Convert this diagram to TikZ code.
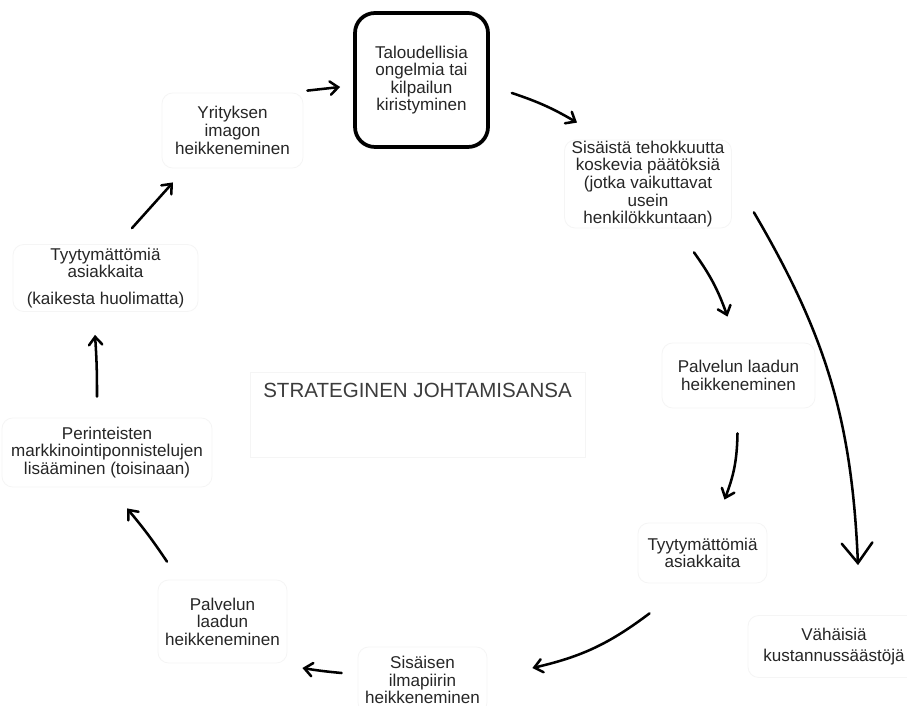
\documentclass[tikz,border=0pt]{standalone}
\usepackage{fontspec}
\setmainfont{Liberation Sans}
\usetikzlibrary{arrows.meta,calc}
\definecolor{ink}{HTML}{262626}
\definecolor{faintline}{HTML}{F5F5F5}
\begin{document}
\begin{tikzpicture}[x=0.75pt,y=0.75pt,
  every node/.style={inner sep=0pt,align=center,text=ink,
    font=\fontsize{12.8}{13.2}\selectfont},
  boxsize/.style 2 args={minimum width=#1*0.75pt,minimum height=#2*0.75pt},
  cell/.style={draw=faintline,line width=0.6pt,rounded corners=8pt},
  keybox/.style={draw=black,line width=2.8pt,rounded corners=15pt},
  arr/.style={draw=black,line width=1.9pt,line cap=round,
    -{Straight Barb[length=6pt,width=10pt,line cap=round]}},
  bigarr/.style={draw=black,line width=1.9pt,line cap=round,
    -{Straight Barb[length=15pt,width=23pt,line cap=round]}}]
\useasboundingbox[fill=white] (0,0) rectangle (907,-706);

% cycle elements
\node[keybox,boxsize={133}{134}] (top) at (421.5,-80)
  {Taloudellisia\\ongelmia tai\\kilpailun\\kiristyminen};
\node[cell,boxsize={167}{88}] (sis) at (648,-184)
  {Sisäistä tehokkuutta\\koskevia päätöksiä\\(jotka vaikuttavat\\usein\\henkilökkuntaan)};
\node[cell,boxsize={153}{65}] (pal1) at (738.5,-375.5)
  {Palvelun laadun\\heikkeneminen};
\node[cell,boxsize={129}{60}] (tyy1) at (702.5,-553)
  {Tyytymättömiä\\asiakkaita};
\node[cell,boxsize={172}{62}] (vah) at (834,-646.5)
  {Vähäisiä\\[3pt]kustannussäästöjä};
\node[cell,boxsize={129}{66}] (sisb) at (422.5,-680)
  {Sisäisen\\ilmapiirin\\heikkeneminen};
\node[cell,boxsize={129}{83}] (pal2) at (222.5,-621.5)
  {Palvelun\\laadun\\heikkeneminen};
\node[cell,boxsize={210}{69}] (per) at (107,-452.5)
  {Perinteisten\\markkinointiponnistelujen\\lisääminen (toisinaan)};
\node[cell,boxsize={185}{67}] (tyy2) at (105.5,-278)
  {Tyytymättömiä\\asiakkaita\\[7pt](kaikesta huolimatta)};
\node[cell,boxsize={141}{75}] (yri) at (232.5,-130.5)
  {Yrityksen\\imagon\\heikkeneminen};

% centre title
\draw[faintline,line width=0.6pt] (250,-372) rectangle (585,-457);
\node[font=\fontsize{15.4}{17}\selectfont,text=ink!90] (title) at (417.5,-390)
  {STRATEGINEN JOHTAMISANSA};

% connectors
\draw[arr] ($(yri.north east)+(4,2)$) -- ($(top.west)+(-13,-7)$);
\draw[arr] ($(top.east)+(22,-13)$) to[bend left=6] ($(sis.north)+(-71,17)$);
\draw[arr] ($(sis.south)+(46,-24)$) to[bend left=8] ($(pal1.north)+(-11,26)$);
\draw[bigarr] ($(sis.south east)+(22,16)$) to[bend left=14] ($(vah.north)+(24,50)$);
\draw[arr] ($(pal1.south)+(-1,-25)$) to[bend left=10] ($(tyy1.north)+(22,23)$);
\draw[arr] ($(tyy1.south)+(-53,-30)$) to[bend left=12] ($(sisb.east)+(45,12)$);
\draw[arr] ($(sisb.west)+(-16,7)$) to[bend left=2] ($(pal2.east)+(15,-46.5)$);
\draw[arr] ($(pal2.north)+(-55.5,18)$) to[bend right=3] ($(per.south)+(20,-21)$);
\draw[arr] ($(per.north)+(-10,21)$) to[bend right=2] ($(tyy2.south)+(-10.5,-23)$);
\draw[arr] ($(tyy2.north)+(26.5,16)$) -- ($(yri.south)+(-59.5,-14)$);
\end{tikzpicture}
\end{document}
